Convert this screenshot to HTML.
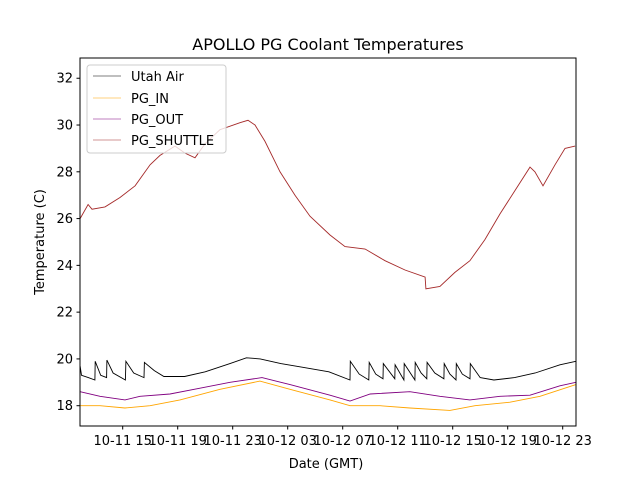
<!DOCTYPE html>
<html><head><meta charset="utf-8"><style>
body{margin:0;background:#fff}
svg text{font-family:"DejaVu Sans","Liberation Sans",sans-serif;fill:#000}
</style></head><body>
<svg id="chart" width="640" height="480" xmlns="http://www.w3.org/2000/svg">
<rect width="640" height="480" fill="#fff"/>
<text x="328" y="50" font-size="16" text-anchor="middle">APOLLO PG Coolant Temperatures</text>
<g id="series"></g>
<rect x="80" y="58" width="496" height="368" fill="none" stroke="#000" stroke-width="1"/>
<g id="axes"></g>
<text x="326" y="468" font-size="13" text-anchor="middle">Date (GMT)</text>
<text x="44" y="242" font-size="13" text-anchor="middle" transform="rotate(-90 44 242)">Temperature (C)</text>
<g>
<rect x="87" y="65" width="139" height="88" rx="3" fill="#fff" fill-opacity="0.8" stroke="#ccc"/>
<line x1="93" y1="76" x2="121" y2="76" stroke="#000" stroke-width="0.6"/><text x="131" y="81" font-size="13">Utah Air</text>
<line x1="93" y1="98" x2="121" y2="98" stroke="#ffa500" stroke-width="0.6"/><text x="131" y="103" font-size="13">PG_IN</text>
<line x1="93" y1="119" x2="121" y2="119" stroke="#800080" stroke-width="0.6"/><text x="131" y="124" font-size="13">PG_OUT</text>
<line x1="93" y1="140" x2="121" y2="140" stroke="#a52a2a" stroke-width="0.6"/><text x="131" y="145" font-size="13">PG_SHUTTLE</text>
</g>
</svg>
<script>
const xTickHours=[15,19,23,27,31,35,39,43,47];
const xTickLabels=["10-11 15","10-11 19","10-11 23","10-12 03","10-12 07","10-12 11","10-12 15","10-12 19","10-12 23"];
const yTicks=[18,20,22,24,26,28,30,32];
const shuttleH=[11.9,12.48,12.77,13.71,14.8,15.9,16.99,17.71,18.8,19.53,20.26,20.99,22.08,23.53,24.11,24.62,25.35,26.44,27.53,28.62,30.08,31.17,32.63,34.08,35.53,36.99,37.05,38.07,39.16,40.25,41.34,42.44,43.53,44.62,44.98,45.57,46.44,47.17,47.9];
const shuttleT=[26.0,26.6,26.4,26.5,26.9,27.4,28.3,28.7,29.1,28.8,28.6,29.2,29.8,30.1,30.2,30.0,29.3,28.0,27.0,26.1,25.3,24.8,24.7,24.2,23.8,23.5,23.0,23.1,23.7,24.2,25.1,26.2,27.2,28.2,28.0,27.4,28.3,29.0,29.1];
const airH=[11.9,12.0,12.5,12.98,13.0,13.4,13.83,13.85,14.3,15.2,15.23,15.8,16.55,16.58,17.3,18.0,19.5,21.0,22.8,24.0,25.0,26.5,28.0,30.0,31.53,31.55,32.2,32.9,32.93,33.4,33.93,33.95,34.79,34.81,35.45,35.47,36.25,36.27,36.7,37.12,37.14,37.7,38.36,38.38,38.8,39.24,39.26,39.7,40.26,40.28,41.0,42.0,43.5,45.0,46.8,47.96];
const airT=[19.7,19.3,19.2,19.1,19.9,19.3,19.2,19.95,19.4,19.1,19.9,19.4,19.2,19.85,19.5,19.25,19.25,19.45,19.8,20.05,20.0,19.8,19.65,19.45,19.1,19.9,19.35,19.1,19.85,19.35,19.15,19.8,19.15,19.75,19.1,19.8,19.1,19.85,19.4,19.15,19.85,19.4,19.15,19.8,19.35,19.1,19.8,19.35,19.15,19.8,19.2,19.1,19.2,19.4,19.75,19.9];
const outH=[11.9,13.35,15.17,16.26,18.44,20.62,22.8,25.13,27.17,30.08,31.53,33.0,35.89,38.07,40.25,42.44,44.62,46.8,47.96];
const outT=[18.6,18.4,18.25,18.4,18.5,18.75,19.0,19.2,18.9,18.45,18.2,18.5,18.6,18.4,18.25,18.4,18.45,18.85,19.0];
const inH=[11.9,13.35,15.17,16.99,19.17,22.08,24.98,27.17,30.08,31.53,33.71,35.89,38.8,40.62,43.17,45.35,47.96];
const inT=[18.0,18.0,17.9,18.0,18.25,18.7,19.05,18.7,18.25,18.0,18.0,17.9,17.8,18.0,18.15,18.4,18.9];
const xs=h=>122.7+(h-15)*13.75;
const ys=t=>405.7-(t-18)*23.39;
const NS="http://www.w3.org/2000/svg";
const ser=document.getElementById('series');
function line(H,T,color,name){
  const p=document.createElementNS(NS,'polyline');
  p.setAttribute('points',H.map((h,i)=>xs(h).toFixed(1)+','+ys(T[i]).toFixed(1)).join(' '));
  p.setAttribute('fill','none');p.setAttribute('stroke',color);p.setAttribute('stroke-width','0.9');
  
  
  ser.appendChild(p);
}
line(inH,inT,'#ffa500','pg-in-line');
line(outH,outT,'#800080','pg-out-line');
line(airH,airT,'#000','utah-air-line');
line(shuttleH,shuttleT,'#a52a2a','pg-shuttle-line');
const ax=document.getElementById('axes');
xTickHours.forEach((h,i)=>{
  const x=xs(h);
  const l=document.createElementNS(NS,'line');
  l.setAttribute('x1',x);l.setAttribute('x2',x);l.setAttribute('y1',426);l.setAttribute('y2',429.5);l.setAttribute('stroke','#000');
  
  
  ax.appendChild(l);
  const t=document.createElementNS(NS,'text');
  t.setAttribute('x',x);t.setAttribute('y',445);t.setAttribute('font-size','13');t.setAttribute('text-anchor','middle');
  t.textContent=xTickLabels[i];
  
  
  ax.appendChild(t);
});
yTicks.forEach(v=>{
  const y=ys(v);
  const l=document.createElementNS(NS,'line');
  l.setAttribute('x1',76.5);l.setAttribute('x2',80);l.setAttribute('y1',y);l.setAttribute('y2',y);l.setAttribute('stroke','#000');
  
  
  ax.appendChild(l);
  const t=document.createElementNS(NS,'text');
  t.setAttribute('x',73);t.setAttribute('y',y+4.5);t.setAttribute('font-size','13');t.setAttribute('text-anchor','end');
  t.textContent=v;
  
  
  ax.appendChild(t);
});
</script>
</body></html>
